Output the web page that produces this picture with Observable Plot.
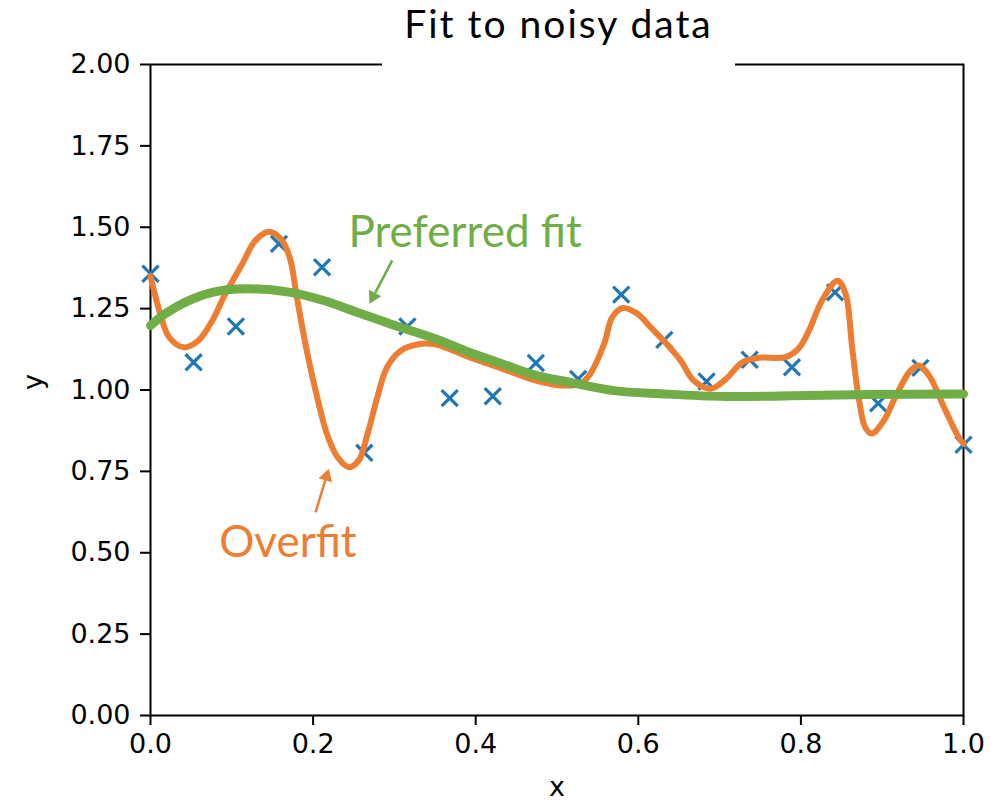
<!DOCTYPE html>
<html>
<head>
<meta charset="utf-8">
<script src="https://cdn.jsdelivr.net/npm/d3@7"></script>
<script src="https://cdn.jsdelivr.net/npm/@observablehq/plot@0.6"></script>
<style>
  html, body { margin: 0; padding: 0; background: #fff; }
  #wrap { position: relative; width: 996px; height: 803px; }
  #titlebox {
    position: absolute; left: 382px; top: 0px; width: 353px; height: 66px;
    background: #fff; z-index: 2;
  }
  #title {
    position: absolute; left: 0; top: 0; width: 353px; text-align: center;
    font-family: Lato, "Open Sans", sans-serif; font-size: 39px; line-height: 46.8px;
    letter-spacing: 2px; color: #000;
  }
</style>
</head>
<body>
<div id="wrap">
  <div id="titlebox"><div id="title">Fit to noisy data</div></div>
  <div id="chart"></div>
</div>
<script>
// Noisy data points (20 samples)
const pointX = [0.000, 0.053, 0.105, 0.158, 0.211, 0.263, 0.316, 0.368, 0.421, 0.474,
                0.526, 0.579, 0.632, 0.684, 0.737, 0.789, 0.842, 0.895, 0.947, 1.000];
const pointY = [1.357, 1.085, 1.195, 1.449, 1.377, 0.807, 1.195, 0.975, 0.981, 1.083,
                1.034, 1.293, 1.154, 1.026, 1.093, 1.070, 1.300, 0.959, 1.068, 0.832];

// Overfit curve (traced)
const overX = [0.000, 0.012, 0.023, 0.041, 0.059, 0.076, 0.092, 0.113, 0.129, 0.146, 0.162, 0.172,
               0.180, 0.193, 0.205, 0.217, 0.230, 0.244, 0.256, 0.267, 0.279, 0.291, 0.308, 0.328, 0.351,
               0.392, 0.433, 0.474, 0.506, 0.529, 0.541, 0.558, 0.568, 0.581, 0.599, 0.615, 0.631, 0.652,
               0.668, 0.689, 0.707, 0.728, 0.748, 0.781, 0.797, 0.810, 0.826, 0.845, 0.855, 0.863, 0.871,
               0.879, 0.887, 0.902, 0.918, 0.935, 0.946, 0.959, 0.976, 0.994, 1.000];
const overY = [1.350, 1.234, 1.162, 1.131, 1.152, 1.213, 1.295, 1.388, 1.459, 1.486, 1.459, 1.400,
               1.285, 1.111, 0.978, 0.865, 0.794, 0.763, 0.783, 0.865, 0.978, 1.070, 1.121, 1.140, 1.140,
               1.101, 1.065, 1.029, 1.014, 1.019, 1.050, 1.142, 1.224, 1.252, 1.234, 1.193, 1.152, 1.091,
               1.029, 1.004, 1.032, 1.085, 1.099, 1.101, 1.127, 1.183, 1.275, 1.336, 1.295, 1.131, 0.978,
               0.886, 0.866, 0.906, 0.988, 1.060, 1.075, 1.039, 0.947, 0.855, 0.835];

// Preferred (smooth) fit
const prefX = [0.000, 0.018, 0.043, 0.076, 0.117, 0.172, 0.213, 0.254, 0.295, 0.351, 0.392,
               0.433, 0.474, 0.515, 0.570, 0.631, 0.707, 0.789, 0.886, 1.000];
const prefY = [1.198, 1.234, 1.270, 1.300, 1.311, 1.300, 1.275, 1.239, 1.203, 1.157, 1.116,
               1.080, 1.045, 1.024, 0.998, 0.988, 0.980, 0.982, 0.986, 0.988];

// Annotations (data coordinates)
const annLabels = ["Preferred fit", "Overfit"];
const annX = [0.387, 0.169];
const annY = [1.484, 0.531];
const annColors = ["#70ad47", "#ed7d31"];
const arrowFromX = [0.2973, 0.2030];
const arrowFromY = [1.398, 0.624];
const arrowToX = [0.2694, 0.2193];
const arrowToY = [1.265, 0.758];

const xTicks = [0, 0.2, 0.4, 0.6, 0.8, 1.0];
const yTicks = [0, 0.25, 0.5, 0.75, 1.0, 1.25, 1.5, 1.75, 2.0];

// Layout
const W = 996, H = 803, mL = 150, mR = 33, mT = 64, mB = 88;
const kx = (W - mL - mR) / 1;   // px per x unit
const ky = (H - mT - mB) / 2;   // px per y unit
const headBack = 8;             // px from tip to triangle centre

const points = pointX.map((x, i) => ({x, y: pointY[i]}));
const over = overX.map((x, i) => ({x, y: overY[i]}));
const pref = prefX.map((x, i) => ({x, y: prefY[i]}));
const anns = annLabels.map((t, i) => ({t, x: annX[i], y: annY[i], c: annColors[i]}));
const arrows = arrowFromX.map((x1, i) => {
  const x2 = arrowToX[i], y2 = arrowToY[i], y1 = arrowFromY[i];
  const sx = (x2 - x1) * kx, sy = -(y2 - y1) * ky;      // screen direction
  const len = Math.hypot(sx, sy), ux = sx / len, uy = sy / len;
  const angle = Math.atan2(ux, -uy) * 180 / Math.PI;    // rotation from "up"
  const hx = x2 - ux * headBack / kx, hy = y2 + uy * headBack / ky;
  const lx = x2 - ux * 12 / kx, ly = y2 + uy * 12 / ky;
  return {x1, y1, lx, ly, hx, hy, angle, c: annColors[i]};
});

const chart = Plot.plot({
  width: W,
  height: H,
  marginLeft: mL,
  marginRight: mR,
  marginTop: mT,
  marginBottom: mB,
  style: {fontFamily: "DejaVu Sans, sans-serif", fontSize: "27px", color: "#000", background: "#fff"},
  x: {domain: [0, 1]},
  y: {domain: [0, 2]},
  marks: [
    Plot.axisX({ticks: xTicks, tickFormat: d3.format(".1f"), tickSize: 10, tickPadding: 8, strokeWidth: 2, label: null, fontSize: 27}),
    Plot.axisY({ticks: yTicks, tickFormat: d3.format(".2f"), tickSize: 10, tickPadding: 10, strokeWidth: 2, label: null, fontSize: 27}),
    Plot.frame({stroke: "#000", strokeWidth: 2}),
    Plot.text(["x"], {frameAnchor: "bottom", dy: 72, fontSize: 27, lineAnchor: "middle"}),
    Plot.text(["y"], {frameAnchor: "left", dx: -117, rotate: -90, fontSize: 27}),
    Plot.dot(points, {x: "x", y: "y", symbol: "times", r: 7.4, stroke: "#1f77b4", strokeWidth: 3.2}),
    Plot.line(over, {x: "x", y: "y", stroke: "#ed7d31", strokeWidth: 6, curve: "catmull-rom"}),
    Plot.line(pref, {x: "x", y: "y", stroke: "#70ad47", strokeWidth: 9, curve: "catmull-rom"}),
    Plot.link(arrows, {x1: "x1", y1: "y1", x2: "lx", y2: "ly", stroke: "c", strokeWidth: 2.5}),
    Plot.dot(arrows, {x: "hx", y: "hy", symbol: "triangle", r: 5.2, fill: "c", stroke: "none", rotate: "angle"}),
    Plot.text(anns, {x: "x", y: "y", text: "t", fill: "c", fontSize: 44, fontFamily: "Lato, 'Open Sans', sans-serif"})
  ]
});
document.getElementById("chart").appendChild(chart);
</script>
</body>
</html>
